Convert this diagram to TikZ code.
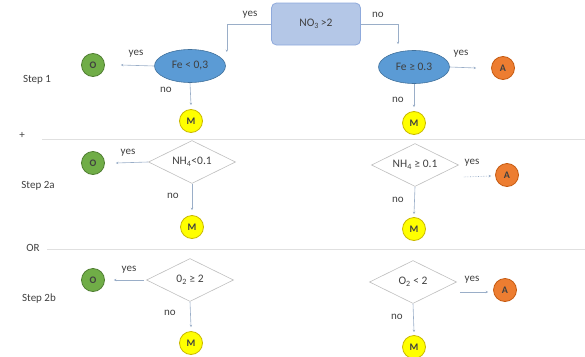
\documentclass[tikz,border=0pt]{standalone}
\usepackage{fontspec}
\setmainfont{Carlito}
\usetikzlibrary{shapes.geometric,arrows.meta,calc}
\definecolor{boxfill}{HTML}{B4C7E7}
\definecolor{boxline}{HTML}{8FAADC}
\definecolor{ellfill}{HTML}{5B9BD5}
\definecolor{ellline}{HTML}{41719C}
\definecolor{ogreen}{HTML}{70AD47}
\definecolor{ogreenl}{HTML}{507E32}
\definecolor{myel}{HTML}{FFFF00}
\definecolor{myell}{HTML}{C9B800}
\definecolor{aor}{HTML}{ED7D31}
\definecolor{aorl}{HTML}{C55A11}
\definecolor{conn}{HTML}{9AAEC8}
\definecolor{txt}{HTML}{404040}
\begin{document}
\begin{tikzpicture}[x=1pt,y=-1pt,
  every node/.style={text=txt},
  lbl/.style={font=\fontsize{11}{12}\selectfont},
  startbox/.style={draw=boxline,fill=boxfill,rounded corners=5pt,minimum width=89pt,minimum height=42pt,font=\fontsize{11.5}{12}\selectfont,line width=0.8pt},
  ellbox/.style={ellipse,draw=ellline,fill=ellfill,minimum width=71pt,minimum height=33pt,inner sep=0pt,font=\fontsize{11.5}{12}\selectfont,line width=0.6pt},
  diabox/.style={diamond,draw=black!25,fill=white,aspect=2,minimum width=87pt,minimum height=43pt,inner sep=0pt,font=\fontsize{11.5}{12}\selectfont,line width=0.6pt},
  endo/.style={circle,draw=ogreenl,fill=ogreen,minimum size=23pt,inner sep=0pt,font=\bfseries\fontsize{10}{11}\selectfont,line width=0.8pt},
  endm/.style={circle,draw=myell,fill=myel,minimum size=23pt,inner sep=0pt,font=\bfseries\fontsize{10}{11}\selectfont,line width=0.8pt},
  enda/.style={circle,draw=aorl,fill=aor,minimum size=23pt,inner sep=0pt,font=\bfseries\fontsize{10}{11}\selectfont,line width=0.8pt},
  arr/.style={draw=conn,line width=0.6pt,-{Stealth[length=2.5pt,width=2.5pt]}},
  sep/.style={draw=black!12,line width=0.8pt}
]
\useasboundingbox (0,0) rectangle (585,356);
% separators
\coordinate (s1a) at (42,139); \coordinate (s1b) at (585,139);
\coordinate (s2a) at (47,249); \coordinate (s2b) at (585,249);
\draw[sep] (s1a) -- (s1b);
\draw[sep] (s2a) -- (s2b);
\node[lbl] (plus) at (22,135) {+};
\node[lbl] (or) at (33,248) {OR};
\node[lbl] (st1) at (37,80) {Step 1};
\node[lbl] (st2a) at (38,186) {Step 2a};
\node[lbl] (st2b) at (39,299) {Step 2b};

% step 1
\node[startbox] (no3) at (316,24) {NO\textsubscript{3}\,>2};
\node[ellbox] (fe1) at (190,66) {Fe < 0,3};
\node[ellbox] (fe2) at (414,67) {Fe ≥ 0.3};
\node[endo] (o1) at (93,65) {O};
\node[endm] (m1) at (191,121) {M};
\node[enda] (a1) at (503,68) {A};
\node[endm] (m2) at (414,123) {M};
\draw[arr] (no3.west) -| ($(fe1.east)+(1,-14)$);
\draw[arr] (no3.east) -| ($(fe2.north)+(-16,-6)$);
\node[lbl] at (250,15) {yes};
\node[lbl] at (378,15) {no};
\draw[arr] (fe1.west) -- ($(o1.east)+(16,0)$);
\node[lbl] at (136,54) {yes};
\draw[arr] (fe1.south) -- ($(m1.north)+(0,-4)$);
\node[lbl] at (166,90) {no};
\draw[arr] (fe2.east) -- ($(a1.west)+(-15,0)$);
\node[lbl] at (461,54) {yes};
\draw[arr] (fe2.south) -- ($(m2.north)+(0,-4)$);
\node[lbl] at (398,100) {no};

% step 2a
\node[diabox] (nh1) at (192,162) {NH\textsubscript{4}<0.1};
\node[diabox] (nh2) at (415,165) {NH\textsubscript{4} ≥ 0.1};
\node[endo] (o2) at (93,163) {O};
\node[endm] (m3) at (192,227) {M};
\node[enda] (a2) at (507,175) {A};
\node[endm] (m4) at (414,229) {M};
\draw[arr] (nh1.west) -- ($(o2.east)+(11,0)$);
\node[lbl] at (128,153) {yes};
\draw[arr] (nh1.south) -- ($(m3.north)+(0,-5)$);
\node[lbl] at (173,196) {no};
\draw[arr,densely dotted] ($(nh2.east)+(5,12)$) -- ($(a2.west)+(-4,1)$);
\node[lbl] at (472,163) {yes};
\draw[arr] (nh2.south) -- ($(m4.north)+(0,-3)$);
\node[lbl] at (398,200) {no};

% step 2b
\node[diabox] (ox1) at (190,280) {0\textsubscript{2} ≥ 2};
\node[diabox] (ox2) at (413,282) {O\textsubscript{2} < 2};
\node[endo] (o3) at (93,280) {O};
\node[endm] (m5) at (191,343) {M};
\node[enda] (a3) at (505,290) {A};
\node[endm] (m6) at (414,347) {M};
\draw[arr] ($(ox1.west)+(-2,0)$) -- ($(o3.east)+(9,0)$);
\node[lbl] at (129,270) {yes};
\draw[arr] (ox1.south) -- ($(m5.north)+(0,-4)$);
\node[lbl] at (170,313) {no};
\draw[arr] ($(ox2.east)+(3,10)$) -- ($(a3.west)+(-5,2)$);
\node[lbl] at (472,280) {yes};
\draw[arr] (ox2.south) -- ($(m6.north)+(0,-3)$);
\node[lbl] at (397,317) {no};
\end{tikzpicture}
\end{document}
